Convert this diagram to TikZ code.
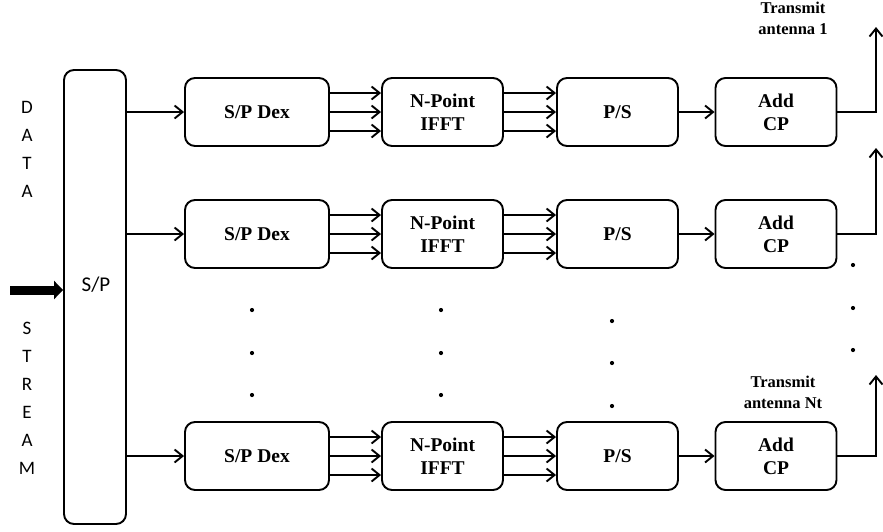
\documentclass[tikz,border=0pt]{standalone}
\usepackage{fontspec}
\setmainfont{Liberation Serif}
\newfontfamily\calfont{Carlito}
\usetikzlibrary{arrows.meta}
\begin{document}
\begin{tikzpicture}[x=1pt,y=-1pt,
  blk/.style={draw, line width=1.9pt, rounded corners=10pt, minimum height=68pt,
    minimum width=121pt, inner sep=0pt, align=center,
    font=\fontsize{19.5}{23}\selectfont\bfseries},
  dexblk/.style={blk, minimum width=144pt},
  conn/.style={line width=1.9pt, -{Straight Barb[length=8pt,width=13pt,line width=1.9pt]}},
  antarrow/.style={line width=1.9pt, -{Straight Barb[length=8pt,width=13pt,line width=1.9pt]}},
  antlabel/.style={align=center, font=\fontsize{16.5}{21}\selectfont\bfseries, inner sep=0pt},
  letter/.style={font=\calfont\fontsize{19}{19}\selectfont, inner sep=0pt},
  dotmark/.style={fill=black, circle, inner sep=0pt, minimum size=4.2pt}
]
\useasboundingbox (0,0) rectangle (883,531);

% big S/P box
\node[draw, line width=1.9pt, rounded corners=10pt, minimum width=62pt, minimum height=454pt, inner sep=0pt] (sp) at (95,297) {};
\node[font=\calfont\fontsize{21}{21}\selectfont, inner sep=0pt] (splabel) at (96,285) {S/P};

% DATA STREAM letters
\node[letter] (l1) at (27,107) {D};
\node[letter] (l2) at (27,135) {A};
\node[letter] (l3) at (27,163) {T};
\node[letter] (l4) at (27,191) {A};
\node[letter] (l5) at (27,328) {S};
\node[letter] (l6) at (27,356) {T};
\node[letter] (l7) at (27,384) {R};
\node[letter] (l8) at (27,412) {E};
\node[letter] (l9) at (27,440) {A};
\node[letter] (l10) at (27,468) {M};

% input thick arrow
\coordinate (in) at (10,290);
\draw[line width=9pt, -{Triangle[length=9pt,width=18pt]}] (in) -- (sp.west |- in);

% rows
\foreach \r/\y in {1/112, 2/234, 3/456}{
  \node[dexblk] (dex\r) at (257,\y) {S/P Dex};
  \node[blk] (ifft\r) at (442.5,\y) {N-Point\\IFFT};
  \node[blk] (ps\r) at (617.5,\y) {P/S};
  \node[blk] (cp\r) at (776,\y) {Add\\CP};
  \draw[conn] (sp.east |- dex\r.west) -- (dex\r.west);
  \foreach \s in {19,0,-19}{
    \draw[conn] ([yshift=\s pt]dex\r.east) -- ([yshift=\s pt]ifft\r.west);
    \draw[conn] ([yshift=\s pt]ifft\r.east) -- ([yshift=\s pt]ps\r.west);
  }
  \draw[conn] (ps\r.east) -- (cp\r.west);
}

% antennas
\coordinate (a1) at (876,27);
\coordinate (a2) at (876,148);
\coordinate (a3) at (876,375);
\draw[antarrow] (cp1.east) -| (a1);
\draw[antarrow] (cp2.east) -| (a2);
\draw[antarrow] (cp3.east) -| (a3);

\node[antlabel] (t1) at (793,18) {Transmit\\antenna 1};
\node[antlabel] (t3) at (783,392) {Transmit\\antenna Nt};

% dots
\foreach \x/\ya/\yb/\yc in {252/310/353/395, 441/310/353/395, 612/321/363/406, 853/265/308/350}{
  \node[dotmark] at (\x,\ya) {};
  \node[dotmark] at (\x,\yb) {};
  \node[dotmark] at (\x,\yc) {};
}
\end{tikzpicture}
\end{document}
